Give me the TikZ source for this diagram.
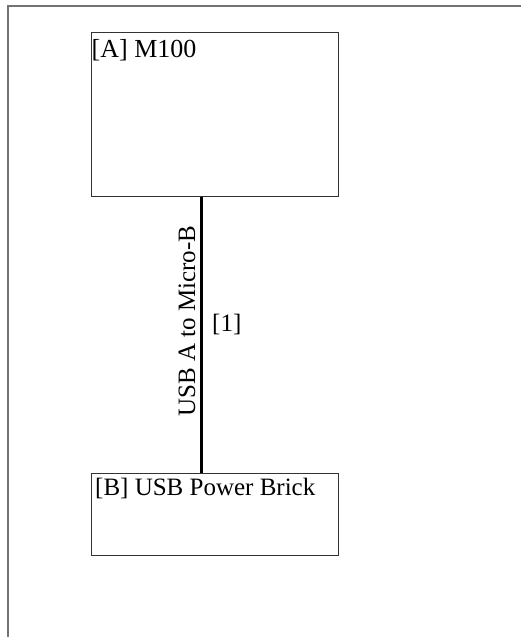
\documentclass[tikz,border=0pt]{standalone}
\usepackage{fontspec}
\setmainfont{Liberation Serif}
\begin{document}
\begin{tikzpicture}[x=1pt,y=1pt,
  box/.style={draw=black!80,line width=1pt,rectangle,inner sep=0pt},
  lbl/.style={inner sep=0pt,font=\fontsize{25}{28}\selectfont},
  frameline/.style={draw=black!55,line width=1.6pt},
  cable/.style={draw=black,line width=3pt}]
\useasboundingbox (0,0) rectangle (520,637);
\draw[frameline] (8,-5) -- (8,631) -- (525,631);
\node[box,minimum width=247pt,minimum height=164pt] (A) at (214.5,522) {};
\node[box,minimum width=247pt,minimum height=82pt] (B) at (214.5,122) {};
\node[lbl,anchor=base west,font=\fontsize{26}{28}\selectfont] (At) at ([xshift=1pt,yshift=-25pt]A.north west) {[A] M100};
\node[lbl,anchor=base west] (Bt) at ([xshift=4.5pt,yshift=-22pt]B.north west) {[B] USB Power Brick};
\coordinate (lx) at (201,0);
\draw[cable] (A.south -| lx) -- (B.north -| lx);
\node[lbl,rotate=90,anchor=base] (cl) at (195,316) {USB A to Micro-B};
\node[lbl,anchor=base west] (cn) at (212,305) {[1]};
\end{tikzpicture}
\end{document}
